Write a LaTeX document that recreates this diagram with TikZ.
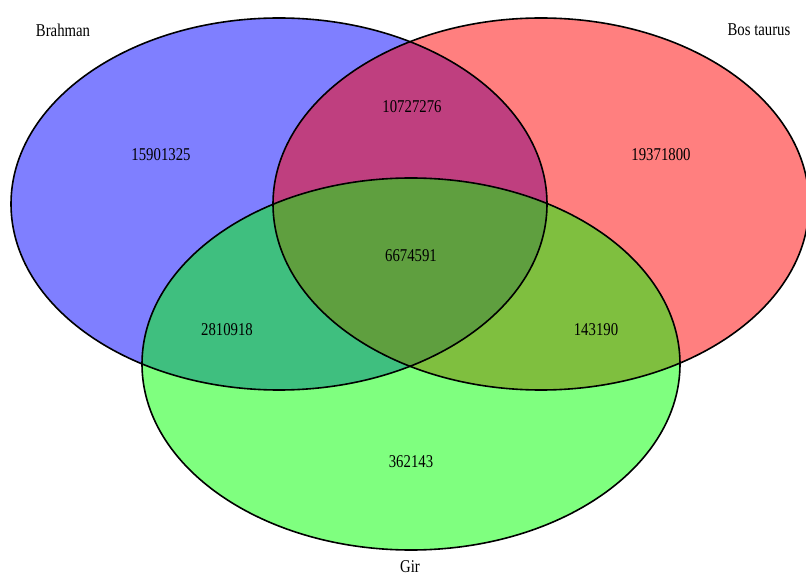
\documentclass[tikz,border=0pt]{standalone}
\usepackage{fontspec}
\setmainfont[FakeStretch=0.82]{Liberation Serif}
\begin{document}
\begin{tikzpicture}[x=1pt,y=-1pt,
  setfill/.style={fill opacity=0.5},
  setline/.style={draw=black,line width=1.6pt},
  lbl/.style={inner sep=0pt,font=\fontsize{18}{18}\selectfont}]
\useasboundingbox (0,0) rectangle (806,577);
\fill[white] (0,0) rectangle (806,577);
\begin{scope}
\clip (0,0) rectangle (806,577);
\fill[blue,setfill] (279,204) ellipse [x radius=268pt, y radius=186pt];
\fill[red,setfill] (541,204) ellipse [x radius=268pt, y radius=186pt];
\fill[green,setfill] (411,364) ellipse [x radius=269pt, y radius=186pt];
\draw[setline] (279,204) ellipse [x radius=268pt, y radius=186pt];
\draw[setline] (541,204) ellipse [x radius=268pt, y radius=186pt];
\draw[setline] (411,364) ellipse [x radius=269pt, y radius=186pt];
\end{scope}
\node[lbl] (nb) at (161,155) {15901325};
\node[lbl] (nbr) at (412,107) {10727276};
\node[lbl] (nr) at (661,155) {19371800};
\node[lbl] (nall) at (411,256) {6674591};
\node[lbl] (nbg) at (227,330) {2810918};
\node[lbl] (nrg) at (596,330) {143190};
\node[lbl] (ng) at (411,462) {362143};
\node[lbl] (tb) at (63,30) {Brahman};
\node[lbl] (tr) at (759,30) {Bos taurus};
\node[lbl] (tg) at (410,567) {Gir};
\end{tikzpicture}
\end{document}
